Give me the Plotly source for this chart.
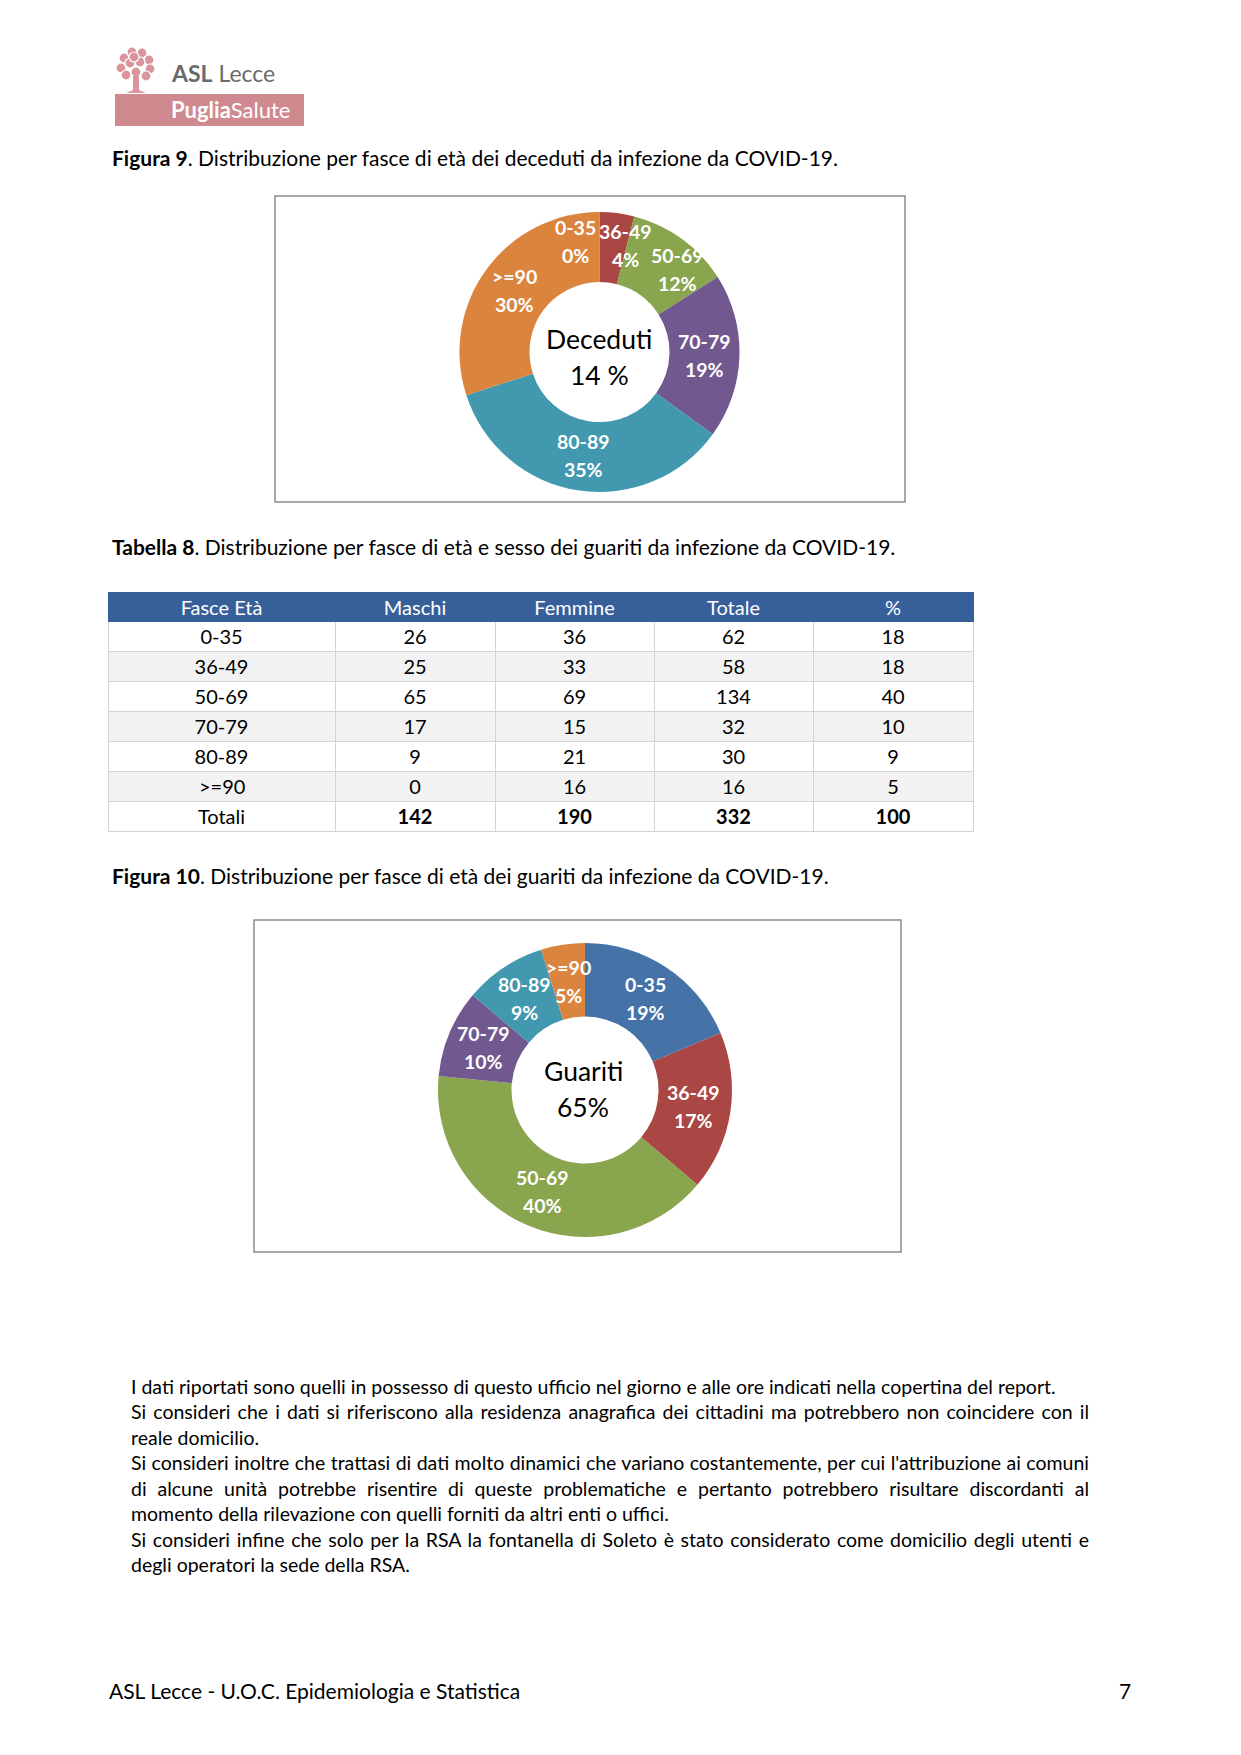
import math
import plotly.graph_objects as go

W, H = 1241, 1755

# ---------------- data ----------------
age_groups = ["0-35", "36-49", "50-69", "70-79", "80-89", ">=90"]
deceased_pct = [0, 4, 12, 19, 35, 30]
males = [26, 25, 65, 17, 9, 0]
females = [36, 33, 69, 15, 21, 16]
totals = [62, 58, 134, 32, 30, 16]
table_pct = [18, 18, 40, 10, 9, 5]
sum_row = ["Totali", 142, 190, 332, 100]
table_header = ["Fasce Età", "Maschi", "Femmine", "Totale", "%"]
center_deceased = ["Deceduti", "14 %"]
center_recovered = ["Guariti", "65%"]

caption_fig9 = ("Figura 9", ". Distribuzione per fasce di età dei deceduti da infezione da COVID-19.")
caption_tab8 = ("Tabella 8", ". Distribuzione per fasce di età e sesso dei guariti da infezione da COVID-19.")
caption_fig10 = ("Figura 10", ". Distribuzione per fasce di età dei guariti da infezione da COVID-19.")

notes = [
    "I dati riportati sono quelli in possesso di questo ufficio nel giorno e alle ore indicati nella copertina del report.",
    "Si consideri che i dati si riferiscono alla residenza anagrafica dei cittadini ma potrebbero non coincidere con il",
    "reale domicilio.",
    "Si consideri inoltre che trattasi di dati molto dinamici che variano costantemente, per cui l'attribuzione ai comuni",
    "di alcune unità potrebbe risentire di queste problematiche e pertanto potrebbero risultare discordanti al",
    "momento della rilevazione con quelli forniti da altri enti o uffici.",
    "Si consideri infine che solo per la RSA la fontanella di Soleto è stato considerato come domicilio degli utenti e",
    "degli operatori la sede della RSA.",
]
notes_justified = [False, True, False, True, True, False, True, False]
footer_left = "ASL Lecce - U.O.C. Epidemiologia e Statistica"
footer_page = "7"

# ---------------- style ----------------
FONT = "Lato"
PALETTE = ["#4572A7", "#AA4643", "#89A54E", "#71588F", "#4198AF", "#DB843D"]
HEADER_BLUE = "#37609A"
GRID = "#D4D4D4"
LOGO_PINK = "#CF8A90"
TEXT_SIZE = 21
NOTE_SIZE = 19.5
NOTE_RIGHT = 1089
TABLE_X = (108, 973)
TABLE_TOP = 592
HEADER_H, ROW_H = 29, 30
COL_W = [227, 160, 159, 159, 160]
CELL_SIZE = 20


def px(x):
    return x / W


def py(y):
    return 1 - y / H


fig = go.Figure()
annotations = []
shapes = []


def text_ann(x, y, text, size, color="black", xanchor="center", align="center"):
    annotations.append(dict(
        x=px(x), y=py(y), xref="paper", yref="paper", showarrow=False,
        text=text, align=align, xanchor=xanchor, yanchor="middle",
        font=dict(family=FONT, size=size, color=color),
    ))
    return len(annotations) - 1


# ---------------- donut helpers ----------------
def add_donut(values, cx, cy, r, hole):
    fig.add_trace(go.Pie(
        values=values, labels=age_groups, sort=False, direction="clockwise",
        rotation=0, hole=hole, textinfo="none", hoverinfo="label+percent",
        marker=dict(colors=PALETTE, line=dict(width=0)),
        domain=dict(x=[px(cx - r), px(cx + r)], y=[py(cy + r), py(cy - r)]),
        showlegend=False,
    ))


def add_ring_labels(values, cx, cy, r_mid, nudges, gap=14):
    total = sum(values)
    cum = 0
    for i, v in enumerate(values):
        mid = (cum + v / 2) / total * 2 * math.pi
        cum += v
        dx, dy = nudges.get(age_groups[i], (0, 0))
        x = cx + r_mid * math.sin(mid) + dx
        y = cy - r_mid * math.cos(mid) + dy
        pct = round(v / total * 100)
        text_ann(x, y - gap, f"<b>{age_groups[i]}</b>", 19.5, "white")
        text_ann(x, y + gap, f"<b>{pct}%</b>", 19.5, "white")


def add_center(lines, cx, cy, gap=18):
    text_ann(cx, cy - gap, lines[0], 26.5)
    text_ann(cx, cy + gap, lines[1], 26.5)


def add_caption(parts, x, y):
    text_ann(x, y, f"<b>{parts[0]}</b>{parts[1]}", TEXT_SIZE, xanchor="left", align="left")


def add_box(x0, y0, x1, y1):
    shapes.append(dict(type="rect", xref="paper", yref="paper",
                       x0=px(x0), x1=px(x1), y0=py(y1), y1=py(y0),
                       line=dict(color="#8C8C8C", width=1.5), fillcolor="rgba(0,0,0,0)"))


# ---------------- logo ----------------
leaf_centers = [(-12, -8), (-4, -14), (6, -13), (13, -6), (-15, 2), (-6, -3),
                (4, -4), (14, 3), (-10, 9), (0, 6), (10, 10), (-2, -9)]
lx, ly = 136, 66
for (ox, oy) in leaf_centers:
    shapes.append(dict(type="circle", xref="paper", yref="paper",
                       x0=px(lx + ox - 5), x1=px(lx + ox + 5),
                       y0=py(ly + oy + 5), y1=py(ly + oy - 5),
                       fillcolor="#D9959B", line=dict(color="white", width=1.2)))
shapes.append(dict(type="path", xref="paper", yref="paper",
                   path=(f"M {px(133)} {py(76)} L {px(139)} {py(76)} L {px(139)} {py(90)} "
                         f"L {px(146)} {py(93)} L {px(126)} {py(93)} L {px(133)} {py(90)} Z"),
                   fillcolor="#D9959B", line=dict(width=0)))
shapes.append(dict(type="rect", xref="paper", yref="paper",
                   x0=px(115), x1=px(304), y0=py(126), y1=py(94),
                   fillcolor=LOGO_PINK, line=dict(width=0)))
text_ann(169, 73, "<b>ASL</b> Lecce", 23, "#6A6A6A", xanchor="left", align="left")
text_ann(169, 110, "<b>Puglia</b>Salute", 22, "white", xanchor="left", align="left")

# ---------------- figure 9 ----------------
add_caption(caption_fig9, 110, 158)
add_box(275, 196, 905, 502)
add_donut(deceased_pct, 599.5, 352, 140, 0.5)
add_ring_labels(deceased_pct, 599.5, 352, 105,
                {"0-35": (-24, -6), "36-49": (13, -2), "50-69": (16, 2)})
add_center(center_deceased, 599, 357)

# ---------------- table 8 ----------------
add_caption(caption_tab8, 110, 546)
n = len(age_groups)
# labels containing markup-like characters would make plotly enlarge the row,
# so they are written over their (blank) cell as plain annotations
has_markup = [any(ch in g for ch in "<>&") for g in age_groups]
first_col = ["" if m else g for g, m in zip(age_groups, has_markup)]
col_vals = [
    first_col,
    [str(v) for v in males],
    [str(v) for v in females],
    [str(v) for v in totals],
    [str(v) for v in table_pct],
]
row_fill = ["white" if i % 2 == 0 else "#F2F2F2" for i in range(n)]
body_bottom = TABLE_TOP + HEADER_H + n * ROW_H
fig.add_trace(go.Table(
    domain=dict(x=[px(TABLE_X[0]), px(TABLE_X[1])], y=[py(body_bottom + 5), py(TABLE_TOP)]),
    columnwidth=COL_W,
    header=dict(values=table_header, fill_color=HEADER_BLUE, line=dict(color=HEADER_BLUE, width=1),
                font=dict(family=FONT, size=CELL_SIZE, color="white"), height=HEADER_H, align="center"),
    cells=dict(values=col_vals, fill_color=[row_fill] * 5,
               line=dict(color=GRID, width=1),
               font=dict(family=FONT, size=CELL_SIZE, color="black"),
               height=ROW_H, align="center"),
))
col0_center = TABLE_X[0] + COL_W[0] / 2 * (TABLE_X[1] - TABLE_X[0]) / sum(COL_W)
for i, g in enumerate(age_groups):
    if has_markup[i]:
        text_ann(col0_center, TABLE_TOP + HEADER_H + (i + 0.5) * ROW_H, g.replace("<", "&lt;"),
                 CELL_SIZE)

# totals row (bold figures)
tot_fill = "white" if n % 2 == 0 else "#F2F2F2"
fig.add_trace(go.Table(
    domain=dict(x=[px(TABLE_X[0]), px(TABLE_X[1])], y=[py(body_bottom + ROW_H + 5), py(body_bottom)]),
    columnwidth=COL_W,
    header=dict(values=[str(v) for v in sum_row], fill_color=tot_fill, line=dict(color=GRID, width=1),
                font=dict(family=FONT, size=CELL_SIZE, color="black",
                          weight=["normal", "bold", "bold", "bold", "bold"]),
                height=ROW_H, align="center"),
    cells=dict(values=[[] for _ in sum_row], height=ROW_H),
))

# ---------------- figure 10 ----------------
add_caption(caption_fig10, 110, 875)
add_box(254, 920, 901, 1252)
add_donut(totals, 585, 1090, 147, 0.5)
add_ring_labels(totals, 585, 1090, 110, {})
add_center(center_recovered, 583, 1089)

# ---------------- notes ----------------
note_y0, note_dy = 1386.5, 25.45
justify_idx = []
for i, line in enumerate(notes):
    k = text_ann(129, note_y0 + i * note_dy, line, NOTE_SIZE, xanchor="left", align="left")
    if notes_justified[i]:
        justify_idx.append(k)

# ---------------- footer ----------------
text_ann(107, 1690, footer_left, TEXT_SIZE, xanchor="left", align="left")
text_ann(1133, 1690, footer_page, TEXT_SIZE, xanchor="right", align="right")

fig.update_layout(
    width=W, height=H, margin=dict(l=0, r=0, t=0, b=0),
    paper_bgcolor="white", plot_bgcolor="white",
    annotations=annotations, shapes=shapes,
    font=dict(family=FONT),
)

justify_js = """
document.body.style.margin='0';
document.body.style.overflow='hidden';
var gd = document.getElementById('{plot_id}');
var idx = %s;
idx.forEach(function(i){
  var t = gd.querySelector('g.annotation[data-index="' + i + '"] text.annotation-text');
  if(!t) return;
  var r = t.getBoundingClientRect();
  var n = (t.textContent.match(/ /g) || []).length;
  if(n > 0){
    var ws = (%d - r.left - r.width) / n;
    t.setAttribute('text-anchor', 'start');
    t.style.wordSpacing = ws + 'px';
  }
});
""" % (str(justify_idx), NOTE_RIGHT)

fig.write_html("out.html", config={"displayModeBar": False}, post_script=justify_js)
